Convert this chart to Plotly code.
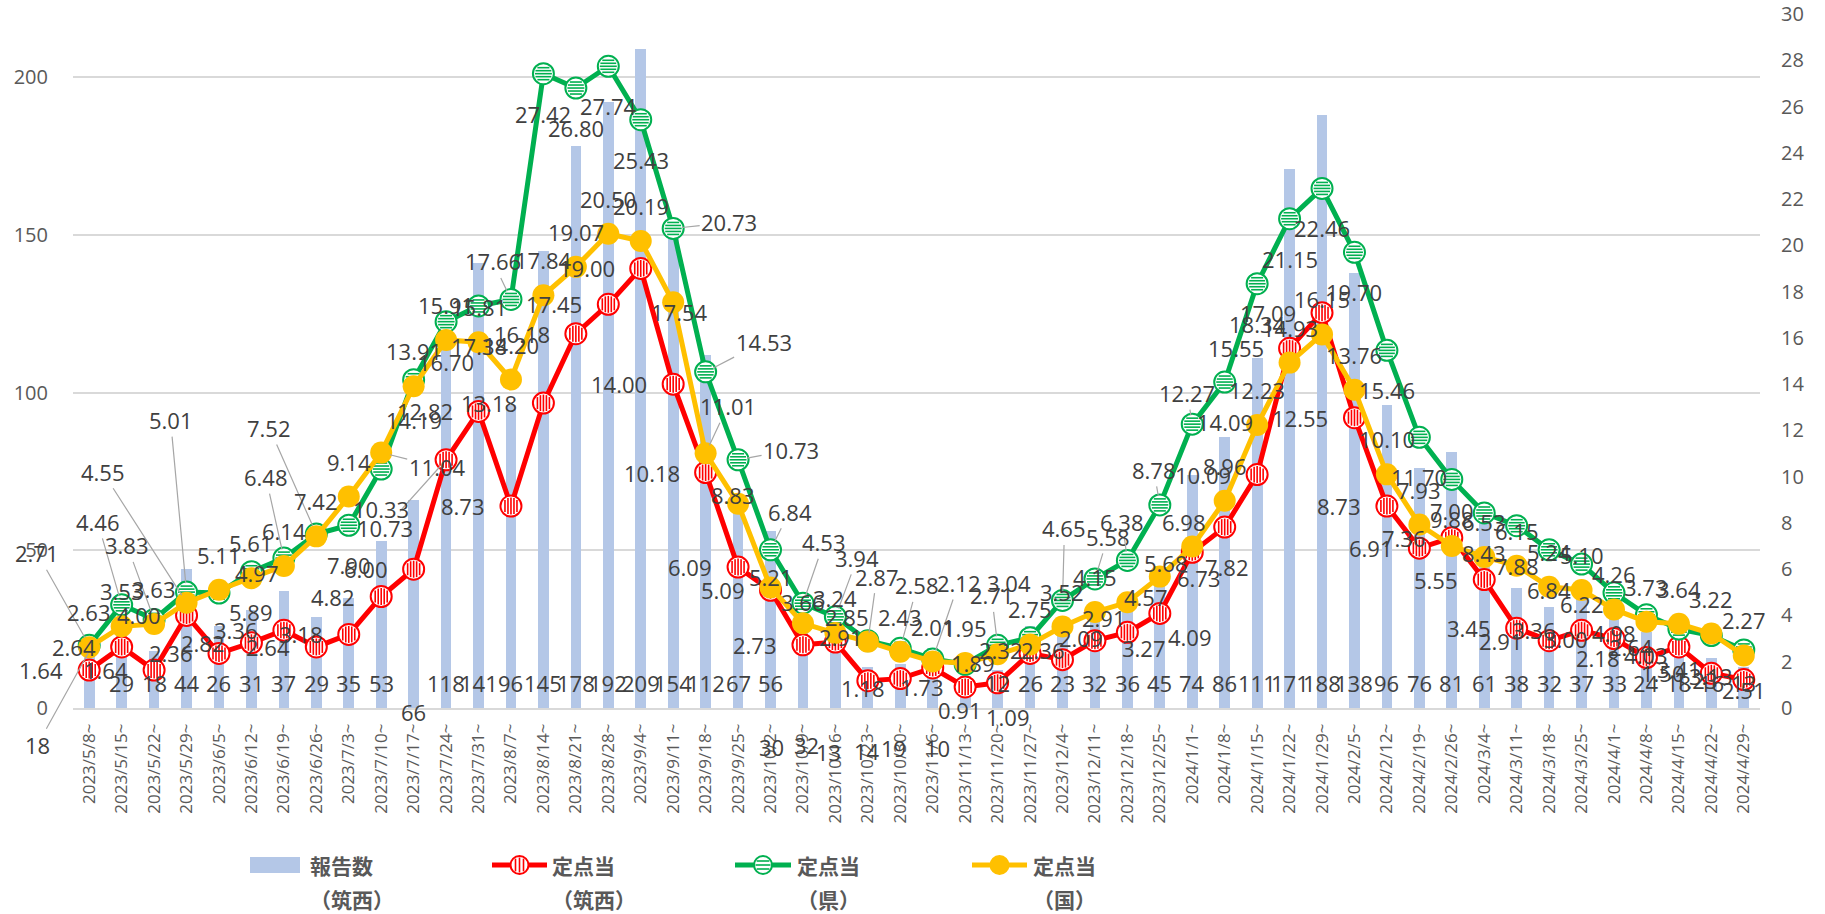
import math
import plotly.graph_objects as go

# ---------------- data ----------------
weeks = ["2023/5/8", "2023/5/15", "2023/5/22", "2023/5/29", "2023/6/5", "2023/6/12",
         "2023/6/19", "2023/6/26", "2023/7/3", "2023/7/10", "2023/7/17", "2023/7/24",
         "2023/7/31", "2023/8/7", "2023/8/14", "2023/8/21", "2023/8/28", "2023/9/4",
         "2023/9/11", "2023/9/18", "2023/9/25", "2023/10/2", "2023/10/9", "2023/10/16",
         "2023/10/23", "2023/10/30", "2023/11/6", "2023/11/13", "2023/11/20", "2023/11/27",
         "2023/12/4", "2023/12/11", "2023/12/18", "2023/12/25", "2024/1/1", "2024/1/8",
         "2024/1/15", "2024/1/22", "2024/1/29", "2024/2/5", "2024/2/12", "2024/2/19",
         "2024/2/26", "2024/3/4", "2024/3/11", "2024/3/18", "2024/3/25", "2024/4/1",
         "2024/4/8", "2024/4/15", "2024/4/22", "2024/4/29"]

reports_chikusei = [18, 29, 18, 44, 26, 31, 37, 29, 35, 53,
                    66, 118, 141, 96, 145, 178, 192, 209, 154, 112,
                    67, 56, 30, 32, 13, 14, 19, 10, 12, 26,
                    23, 32, 36, 45, 74, 86, 111, 171, 188, 138,
                    96, 76, 81, 61, 38, 32, 37, 33, 24, 18,
                    16, 13]

rate_chikusei = [1.64, 2.64, 1.64, 4.00, 2.36, 2.82, 3.36, 2.64, 3.18, 4.82,
                 6.00, 10.73, 12.82, 8.73, 13.18, 16.18, 17.45, 19.00, 14.00, 10.18,
                 6.09, 5.09, 2.73, 2.85, 1.18, 1.27, 1.73, 0.91, 1.09, 2.36,
                 2.09, 2.91, 3.27, 4.09, 6.73, 7.82, 10.09, 15.55, 17.09, 12.55,
                 8.73, 6.91, 7.36, 5.55, 3.45, 2.91, 3.36, 3.00, 2.18, 2.64,
                 1.50, 1.23]

rate_ken = [2.71, 4.46, 3.83, 5.01, 4.97, 5.89, 6.48, 7.52, 7.90, 10.33,
            14.19, 16.70, 17.38, 17.66, 27.42, 26.80, 27.74, 25.43, 20.73, 14.53,
            10.73, 6.84, 4.53, 3.94, 2.91, 2.58, 2.12, 1.89, 2.71, 3.04,
            4.65, 5.58, 6.38, 8.78, 12.27, 14.09, 18.34, 21.15, 22.46, 19.70,
            15.46, 11.70, 9.88, 8.43, 7.88, 6.84, 6.22, 4.98, 4.03, 3.41,
            3.13, 2.51]

rate_kuni = [2.63, 3.53, 3.63, 4.55, 5.11, 5.61, 6.14, 7.42, 9.14, 11.04,
             13.91, 15.91, 15.81, 14.20, 17.84, 19.07, 20.50, 20.19, 17.54, 11.01,
             8.83, 5.21, 3.66, 3.24, 2.87, 2.43, 2.01, 1.95, 2.32, 2.75,
             3.52, 4.15, 4.57, 5.68, 6.98, 8.96, 12.23, 14.93, 16.15, 13.76,
             10.10, 7.93, 7.00, 6.53, 6.15, 5.24, 5.10, 4.26, 3.73, 3.64,
             3.22, 2.27]

legend_names = [("報告数", "（筑西）"), ("定点当", "（筑西）"), ("定点当", "（県）"), ("定点当", "（国）")]

# ---------------- layout constants (window coords, body margin removed) ----------------
W, H = 1825, 914
PLOT_L, PLOT_R, PLOT_T, PLOT_B = 73, 1760, 14, 708
ML, MR, MT, MB = PLOT_L, W - PLOT_R, PLOT_T, H - PLOT_B
PW, PH = PLOT_R - PLOT_L, PLOT_B - PLOT_T
Y1_MAX, Y2_MAX = 220, 30
N = len(weeks)
CAT_PX = PW / N
xs = list(range(N))

RED, GREEN, YELLOW, BAR = "#FF0000", "#00B050", "#FFC000", "#B4C7E7"
TXT = "#404040"
AXT = "#595959"
LEADER = "#A6A6A6"
LABEL_FONT = dict(family="Open Sans", size=22, color=TXT)

fig = go.Figure()

fig.add_trace(go.Bar(x=xs, y=reports_chikusei, width=0.33, yaxis="y",
                     marker=dict(color=BAR, line=dict(width=0)),
                     hoverinfo="skip", showlegend=False))


def striped_series(vals, color, orient):
    fig.add_trace(go.Scatter(
        x=xs, y=vals, yaxis="y2", mode="lines+markers",
        line=dict(color=color, width=5),
        marker=dict(symbol="circle", size=21, color="white",
                    line=dict(color=color, width=2)),
        hoverinfo="skip", showlegend=False))
    inner = 8.5
    for off in (-6, -3, 0, 3, 6):
        half = math.sqrt(inner ** 2 - off ** 2)
        if orient == "v":
            sx = [x + off / CAT_PX for x in xs]
            sy = vals
            sym = "line-ns-open"
        else:
            sx = xs
            sy = [v - off * Y2_MAX / PH for v in vals]
            sym = "line-ew-open"
        fig.add_trace(go.Scatter(
            x=sx, y=sy, yaxis="y2", mode="markers",
            marker=dict(symbol=sym, size=half / 0.7, color=color,
                        line=dict(width=1.6)),
            hoverinfo="skip", showlegend=False))


striped_series(rate_chikusei, RED, "v")
striped_series(rate_ken, GREEN, "h")
fig.add_trace(go.Scatter(
    x=xs, y=rate_kuni, yaxis="y2", mode="lines+markers",
    line=dict(color=YELLOW, width=5),
    marker=dict(symbol="circle", size=22, color=YELLOW, line=dict(width=0)),
    hoverinfo="skip", showlegend=False))

# ---------------- data labels (offsets in screen px: dx, dy_down) ----------------
RED_OVR = {23: (12, -25), 24: (-5, 7), 26: (-11, 19), 27: (-5, 23), 28: (10, 34),
           29: (13, -3), 30: (19, -22), 31: (9, -23), 32: (17, 16), 33: (30, 24),
           34: (7, 26), 35: (2, 40)}
RED_LEAD = {11: (-61, 68)}
RED_HIDE = {25}

GREEN_OVR = {4: (38, -20), 24: (-27, -4), 27: (8, -1), 29: (-21, -55)}
GREEN_LEAD = {0: (-52, -92), 1: (-24, -83), 2: (-27, -74), 3: (-16, -172), 6: (-18, -81),
              7: (-47, -106), 13: (-18, -38), 18: (56, -6), 19: (58, -30), 20: (53, -10),
              21: (19, -38), 22: (21, -61), 23: (22, -59), 25: (17, -63), 26: (26, -76),
              28: (-6, -50), 30: (2, -72), 31: (13, -42), 32: (-5, -38), 33: (-6, -35),
              34: (-5, -31)}

YELLOW_OVR = {18: (6, 10), 20: (-5, -9), 21: (0, -10), 22: (0, -21), 28: (3, -4),
              32: (19, -5), 33: (6, -14), 34: (-8, -25)}
YELLOW_LEAD = {3: (-84, -131), 9: (56, 14), 19: (22, -47), 24: (9, -65)}

BAR_OVR = {10: (0, 4), 22: (-31, 39), 23: (-29, 37), 24: (-39, 44), 25: (-33, 43),
           26: (-39, 40), 27: (-28, 40)}
BAR_LEAD = {0: (-52, 94)}

anns = []


def add_labels(vals, default, ovr, lead, hide=()):
    for i, v in enumerate(vals):
        if i in hide:
            continue
        txt = f"{v:.2f}"
        if i in lead:
            ax, ay = lead[i]
            anns.append(dict(x=i, y=v, xref="x", yref="y2", text=txt, showarrow=True,
                             arrowhead=0, arrowwidth=1.2, arrowcolor=LEADER,
                             ax=ax, ay=ay, standoff=9, font=LABEL_FONT))
        elif i in ovr:
            dx, dy = ovr[i]
            anns.append(dict(x=i, y=v, xref="x", yref="y2", text=txt, showarrow=False,
                             xanchor="center", yanchor="middle", xshift=dx, yshift=-dy,
                             font=LABEL_FONT))
        else:
            xa, dx, dy = default
            anns.append(dict(x=i, y=v, xref="x", yref="y2", text=txt, showarrow=False,
                             xanchor=xa, yanchor="middle", xshift=dx, yshift=-dy,
                             font=LABEL_FONT))


add_labels(rate_chikusei, ("right", -24, 0), RED_OVR, RED_LEAD, RED_HIDE)
add_labels(rate_ken, ("center", 0, 40), GREEN_OVR, GREEN_LEAD)
add_labels(rate_kuni, ("center", 0, -35), YELLOW_OVR, YELLOW_LEAD)

for i, v in enumerate(reports_chikusei):
    if i in BAR_LEAD:
        ax, ay = BAR_LEAD[i]
        anns.append(dict(x=i, y=v, xref="x", yref="y", text=str(v), showarrow=True,
                         arrowhead=0, arrowwidth=1.2, arrowcolor=LEADER, ax=ax, ay=ay,
                         standoff=2, font=LABEL_FONT))
    else:
        dx, dy = BAR_OVR.get(i, (0, -25))
        anns.append(dict(x=i, y=0, xref="x", yref="y", text=str(v), showarrow=False,
                         xanchor="center", yanchor="middle", xshift=dx, yshift=-dy,
                         font=LABEL_FONT))

# ---------------- manual legend ----------------
def px2paper(px, py):
    return (px - PLOT_L) / PW, (PLOT_B - py) / PH


shapes = []
LEG_Y, LEG_Y2 = 865, 899
leg_items = [("bar", BAR, 250, 300, 308), ("v", RED, 492, 547, 550),
             ("h", GREEN, 735, 791, 795), ("solid", YELLOW, 972, 1027, 1031)]
LEG_FONT = dict(family="Noto Sans CJK JP", size=21, color=AXT)
for (kind, col, x0, x1, tx), (n1, n2) in zip(leg_items, legend_names):
    if kind == "bar":
        a0, b0 = px2paper(x0, LEG_Y + 8)
        a1, b1 = px2paper(x1, LEG_Y - 8)
        shapes.append(dict(type="rect", xref="paper", yref="paper", x0=a0, x1=a1, y0=b0, y1=b1,
                           fillcolor=col, line=dict(width=0)))
    else:
        a0, b0 = px2paper(x0, LEG_Y)
        a1, _ = px2paper(x1, LEG_Y)
        shapes.append(dict(type="line", xref="paper", yref="paper", x0=a0, x1=a1, y0=b0, y1=b0,
                           line=dict(color=col, width=5)))
        cx = (x0 + x1) / 2
        r = 9
        c0 = px2paper(cx - r, LEG_Y + r)
        c1 = px2paper(cx + r, LEG_Y - r)
        shapes.append(dict(type="circle", xref="paper", yref="paper",
                           x0=c0[0], x1=c1[0], y0=c0[1], y1=c1[1],
                           fillcolor=col if kind == "solid" else "white",
                           line=dict(color=col, width=2)))
        if kind in ("v", "h"):
            for off in (-4, 0, 4):
                hl = math.sqrt(7.5 ** 2 - off ** 2)
                if kind == "v":
                    p0 = px2paper(cx + off, LEG_Y - hl)
                    p1 = px2paper(cx + off, LEG_Y + hl)
                else:
                    p0 = px2paper(cx - hl, LEG_Y + off)
                    p1 = px2paper(cx + hl, LEG_Y + off)
                shapes.append(dict(type="line", xref="paper", yref="paper",
                                   x0=p0[0], x1=p1[0], y0=p0[1], y1=p1[1],
                                   line=dict(color=col, width=1.6)))
    for txt, yy in ((n1, LEG_Y), (n2, LEG_Y2)):
        px_, py_ = px2paper(tx, yy)
        anns.append(dict(x=px_, y=py_, xref="paper", yref="paper", text=f"<b>{txt}</b>",
                         showarrow=False, xanchor="left", yanchor="middle", font=LEG_FONT))

fig.update_layout(
    width=W, height=H,
    margin=dict(l=ML, r=MR, t=MT, b=MB, autoexpand=False),
    paper_bgcolor="white", plot_bgcolor="white",
    showlegend=False, bargap=0,
    annotations=anns, shapes=shapes,
    xaxis=dict(range=[-0.5, N - 0.5], tickmode="array", tickvals=xs,
               ticktext=[w + "~" for w in weeks], tickangle=-90,
               tickfont=dict(family="Open Sans", size=17, color=AXT),
               showgrid=False, zeroline=False, showline=True, linecolor="#D9D9D9",
               linewidth=1.5, ticks="", ticklabelstandoff=7, automargin=False),
    yaxis=dict(range=[0, Y1_MAX], tickmode="array", tickvals=[0, 50, 100, 150, 200],
               tickfont=dict(family="Open Sans", size=20, color=AXT),
               showgrid=True, gridcolor="#D9D9D9", gridwidth=1.5,
               zeroline=False, showline=False, ticks="", ticklabelstandoff=24,
               automargin=False),
    yaxis2=dict(range=[0, Y2_MAX], overlaying="y", side="right", tick0=0, dtick=2,
                tickfont=dict(family="Open Sans", size=20, color=AXT),
                showgrid=False, zeroline=False, showline=False, ticks="",
                ticklabelstandoff=20, automargin=False),
)

# remove the browser's default 8px body margin so the figure fills the window exactly
fig.write_html("out.html",
               config={"displayModeBar": False},
               post_script="document.body.style.margin='0px';"
                           "document.documentElement.style.overflow='hidden';")
